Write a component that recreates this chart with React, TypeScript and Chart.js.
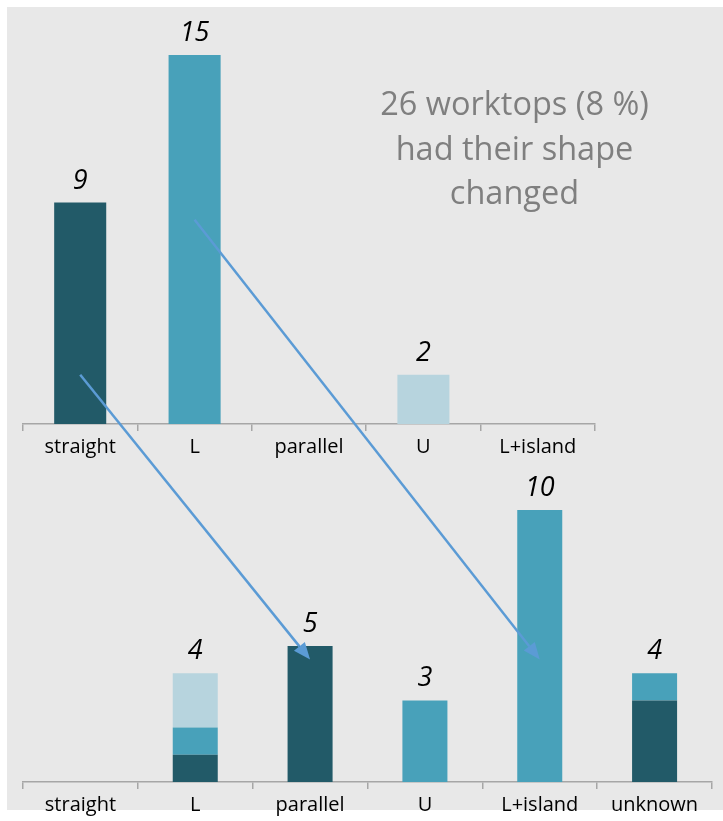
import React, { useEffect, useRef } from 'react';
import { Chart, registerables } from 'chart.js';
Chart.register(...registerables);

// Shapes before the change
const beforeCategories = ['straight', 'L', 'parallel', 'U', 'L+island'];
const beforeCounts = [9, 15, 0, 2, 0];

// Shapes after the change, stacked by original shape
const afterCategories = ['straight', 'L', 'parallel', 'U', 'L+island', 'unknown'];
const fromStraight = [0, 1, 5, 0, 0, 3];
const fromL = [0, 1, 0, 3, 10, 1];
const fromU = [0, 2, 0, 0, 0, 0];

const noteLines = ['26 worktops (8 %)', 'had their shape', 'changed'];

// Arrows: from (category, value) in the top chart to (category, value) in the bottom chart
const arrowFromCategory = ['straight', 'L'];
const arrowFromValue = [2, 8.3];
const arrowToCategory = ['parallel', 'L+island'];
const arrowToValue = [4.5, 4.5];

const SHAPE_COLORS: Record<string, string> = {
  straight: '#225a68',
  L: '#48a1ba',
  U: '#b7d4de',
};

const W = 716;
const H = 814;
const AXIS_H = 38;
const FONT = '"Open Sans", "DejaVu Sans", sans-serif';

const totalsPlugin = {
  id: 'totals',
  afterDatasetsDraw(chart: any) {
    const ctx = chart.ctx;
    const xs = chart.scales.x;
    const ys = chart.scales.y;
    const n = chart.data.labels.length;
    ctx.save();
    ctx.font = `italic 27px ${FONT}`;
    ctx.fillStyle = '#000';
    ctx.textAlign = 'center';
    ctx.textBaseline = 'alphabetic';
    for (let i = 0; i < n; i++) {
      let total = 0;
      chart.data.datasets.forEach((ds: any) => (total += ds.data[i] || 0));
      if (total > 0) {
        ctx.fillText(String(total), xs.getPixelForValue(i), ys.getPixelForValue(total) - 14);
      }
    }
    ctx.restore();
  },
};

const notePlugin = {
  id: 'note',
  afterDraw(chart: any) {
    const { ctx, chartArea } = chart;
    ctx.save();
    ctx.font = `32.5px ${FONT}`;
    ctx.fillStyle = '#7f7f7f';
    ctx.textAlign = 'center';
    ctx.textBaseline = 'alphabetic';
    noteLines.forEach((line, i) => {
      ctx.fillText(line, chartArea.right - 80.5, chartArea.top + 60 + i * 44.5);
    });
    ctx.restore();
  },
};

function xAxis(labelsPad: number) {
  return {
    type: 'category' as const,
    offset: true,
    stacked: true,
    grid: {
      offset: true,
      drawOnChartArea: false,
      drawTicks: true,
      tickLength: 7,
      color: '#a6a6a6',
      lineWidth: 1.5,
    },
    border: { display: true, color: '#a6a6a6', width: 1.5 },
    ticks: {
      font: { family: FONT, size: 20 },
      color: '#000',
      padding: labelsPad,
      autoSkip: false,
      maxRotation: 0,
      minRotation: 0,
    },
    afterFit: (s: any) => {
      s.height = AXIS_H;
    },
  };
}

export default function App() {
  const topRef = useRef<HTMLCanvasElement>(null);
  const botRef = useRef<HTMLCanvasElement>(null);

  useEffect(() => {
    const top = new Chart(topRef.current as HTMLCanvasElement, {
      type: 'bar',
      data: {
        labels: beforeCategories,
        datasets: [
          {
            label: 'before',
            data: beforeCounts,
            backgroundColor: beforeCategories.map((c) => SHAPE_COLORS[c] || '#000'),
            borderWidth: 0,
            barPercentage: 0.455,
            categoryPercentage: 1,
          },
        ],
      },
      options: {
        responsive: false,
        animation: false,
        events: [],
        layout: { padding: { left: 16, right: 128, top: 48, bottom: H - AXIS_H - 417 } },
        plugins: { legend: { display: false }, tooltip: { enabled: false } },
        scales: {
          x: xAxis(4) as any,
          y: { display: false, min: 0, max: 15, stacked: true },
        },
      },
      plugins: [totalsPlugin, notePlugin],
    });

    const arrowPlugin = {
      id: 'arrows',
      afterDraw(chart: any) {
        const ctx = chart.ctx;
        const tx = top.scales.x;
        const ty = top.scales.y;
        const bx = chart.scales.x;
        const by = chart.scales.y;
        ctx.save();
        ctx.strokeStyle = '#5b9bd5';
        ctx.fillStyle = '#5b9bd5';
        ctx.lineWidth = 2.5;
        for (let i = 0; i < arrowFromCategory.length; i++) {
          const x1 = tx.getPixelForValue(beforeCategories.indexOf(arrowFromCategory[i]));
          const y1 = ty.getPixelForValue(arrowFromValue[i]);
          const x2 = bx.getPixelForValue(afterCategories.indexOf(arrowToCategory[i]));
          const y2 = by.getPixelForValue(arrowToValue[i]);
          const ang = Math.atan2(y2 - y1, x2 - x1);
          const hl = 17;
          const hw = 7;
          const bxp = x2 - hl * Math.cos(ang);
          const byp = y2 - hl * Math.sin(ang);
          ctx.beginPath();
          ctx.moveTo(x1, y1);
          ctx.lineTo(bxp, byp);
          ctx.stroke();
          ctx.beginPath();
          ctx.moveTo(x2, y2);
          ctx.lineTo(bxp + hw * Math.sin(ang), byp - hw * Math.cos(ang));
          ctx.lineTo(bxp - hw * Math.sin(ang), byp + hw * Math.cos(ang));
          ctx.closePath();
          ctx.fill();
        }
        ctx.restore();
      },
    };

    const bot = new Chart(botRef.current as HTMLCanvasElement, {
      type: 'bar',
      data: {
        labels: afterCategories,
        datasets: [
          { label: 'from straight', data: fromStraight, backgroundColor: SHAPE_COLORS.straight },
          { label: 'from L', data: fromL, backgroundColor: SHAPE_COLORS.L },
          { label: 'from U', data: fromU, backgroundColor: SHAPE_COLORS.U },
        ].map((d) => ({ ...d, borderWidth: 0, barPercentage: 0.392, categoryPercentage: 1 })),
      },
      options: {
        responsive: false,
        animation: false,
        events: [],
        layout: { padding: { left: 16, right: 11, top: 503, bottom: H - AXIS_H - 775 } },
        plugins: { legend: { display: false }, tooltip: { enabled: false } },
        scales: {
          x: xAxis(4) as any,
          y: { display: false, min: 0, max: 10, stacked: true },
        },
      },
      plugins: [totalsPlugin, arrowPlugin],
    });

    return () => {
      bot.destroy();
      top.destroy();
    };
  }, []);

  return (
    <div style={{ position: 'absolute', left: 7, top: 7, width: W, height: H }}>
      <div style={{ position: 'absolute', left: 0, top: 0, width: W, height: 803, background: '#e8e8e8' }} />
      <canvas ref={topRef} width={W} height={H} style={{ position: 'absolute', left: 0, top: 0 }} />
      <canvas ref={botRef} width={W} height={H} style={{ position: 'absolute', left: 0, top: 0 }} />
    </div>
  );
}
